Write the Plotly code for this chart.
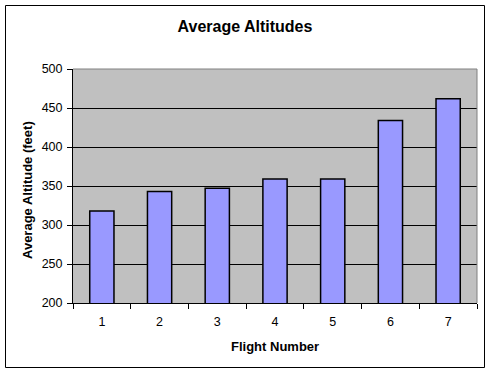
import plotly.graph_objects as go

flights = ["1", "2", "3", "4", "5", "6", "7"]
altitudes = [318, 343, 347, 359, 359, 434, 462]
y_ticks = [200, 250, 300, 350, 400, 450, 500]

W, H = 492, 374
L, R, T, B = 73, 477, 69, 303  # plot area pixels

fig = go.Figure()
fig.add_trace(go.Bar(
    x=flights, y=altitudes,
    marker=dict(color="#9999FF", line=dict(color="black", width=1.5)),
    width=0.42,
))

font = "Liberation Sans, Arial, sans-serif"
fig.update_layout(
    width=W, height=H,
    margin=dict(l=L, r=W - R, t=T, b=H - B, pad=0),
    paper_bgcolor="white",
    plot_bgcolor="#C0C0C0",
    showlegend=False,
    font=dict(family=font, size=12, color="black"),
    title=dict(text="<b>Average Altitudes</b>", font=dict(size=16, family=font, color="black"),
               xref="container", x=245 / W, xanchor="center",
               yref="container", y=1 - 26 / H, yanchor="middle"),
    xaxis=dict(
        type="category", showgrid=False, ticks="outside", tickson="boundaries",
        ticklen=5, tickcolor="black", tickwidth=1,
        showline=True, linecolor="black", linewidth=1, mirror=False,
        tickfont=dict(size=12.5, family=font), zeroline=False,
        ticklabelstandoff=7,
    ),
    yaxis=dict(
        range=[200, 500], tickvals=y_ticks, ticks="outside", ticklen=5,
        tickcolor="black", tickwidth=1,
        showgrid=True, gridcolor="black", gridwidth=1,
        showline=True, linecolor="black", linewidth=1,
        tickfont=dict(size=12.5, family=font), zeroline=False,
        ticklabelstandoff=2,
    ),
    annotations=[
        dict(text="<b>Flight Number</b>", xref="paper", yref="paper",
             x=0.5, y=(B - 346) / (B - T), xanchor="center", yanchor="middle",
             showarrow=False, font=dict(size=13, family=font)),
        dict(text="<b>Average Altitude (feet)</b>", xref="paper", yref="paper",
             x=(27 - L) / (R - L), y=(B - 190) / (B - T), xanchor="center", yanchor="middle",
             textangle=-90, showarrow=False, font=dict(size=13, family=font)),
    ],
    shapes=[
        dict(type="line", xref="paper", yref="paper", x0=0, x1=1, y0=1, y1=1,
             line=dict(color="#808080", width=1)),
        dict(type="line", xref="paper", yref="paper", x0=1, x1=1, y0=0, y1=1,
             line=dict(color="#808080", width=1)),
        dict(type="rect", xref="paper", yref="paper",
             x0=(5.5 - L) / (R - L), x1=(484.5 - L) / (R - L),
             y0=(B - 367.5) / (B - T), y1=(B - 5.5) / (B - T),
             line=dict(color="black", width=1), layer="above"),
    ],
)

fig.write_html("out.html", config={"displayModeBar": False},
               post_script="document.body.style.margin='0';document.body.style.overflow='hidden';")
